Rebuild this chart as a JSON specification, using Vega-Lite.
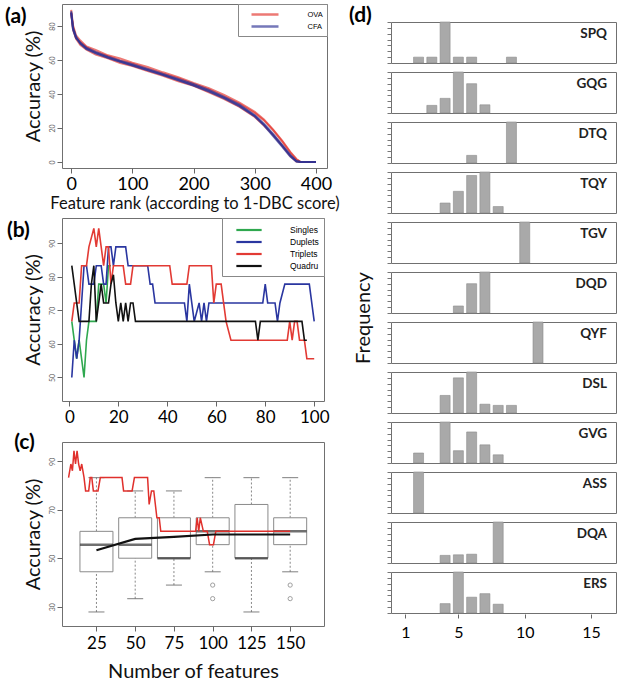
{
  "$schema": "https://vega.github.io/schema/vega-lite/v6.json",
  "background": "white",
  "padding": {"left": 4, "top": 3, "right": 0, "bottom": 0},
  "config": {
    "font": "Lato",
    "view": {"stroke": "#707070", "strokeWidth": 1},
    "axis": {"domain": false, "grid": false, "tickColor": "#666", "tickSize": 5, "labelColor": "#000", "titleFontWeight": "normal", "titleColor": "#111", "titleFont": "Lato", "labelFont": "Lato"},
    "axisY": {"labelAngle": -90, "labelAlign": "center", "labelBaseline": "bottom", "labelFontSize": 7, "labelColor": "#666", "titleFontSize": 20, "labelPadding": 2, "titlePadding": 5},
    "axisX": {"labelFontSize": 17, "labelPadding": 2, "titleFontSize": 19}
  },
  "datasets": {
    "boxes": [
      {"n": 25, "lo": 27.8, "q1": 44.4, "med": 55.6, "q3": 61.1, "hi": 83.3},
      {"n": 50, "lo": 33.3, "q1": 50, "med": 55.6, "q3": 66.7, "hi": 77.8},
      {"n": 75, "lo": 38.9, "q1": 50, "med": 50, "q3": 66.7, "hi": 77.8},
      {"n": 100, "lo": 44.4, "q1": 55.6, "med": 61.1, "q3": 66.7, "hi": 83.3},
      {"n": 125, "lo": 27.8, "q1": 50, "med": 50, "q3": 72.2, "hi": 83.3},
      {"n": 150, "lo": 44.4, "q1": 55.6, "med": 61.1, "q3": 66.7, "hi": 83.3}
    ]
  },
  "spacing": 9,
  "hconcat": [
    {
      "spacing": 5,
      "resolve": {"scale": {"color": "independent"}, "legend": {"color": "independent"}},
      "vconcat": [
        {
          "width": 265,
          "height": 164,
          "layer": [
            {
              "data": {"values": [
                {"m":"OVA","r":"o1","x":0,"y":89.5},{"m":"OVA","r":"o1","x":3,"y":80.5},{"m":"OVA","r":"o1","x":8,"y":74.5},{"m":"OVA","r":"o1","x":15,"y":71.5},{"m":"OVA","r":"o1","x":25,"y":68},{"m":"OVA","r":"o1","x":40,"y":66},{"m":"OVA","r":"o1","x":60,"y":62.8},{"m":"OVA","r":"o1","x":80,"y":61},{"m":"OVA","r":"o1","x":100,"y":58.5},{"m":"OVA","r":"o1","x":125,"y":56},{"m":"OVA","r":"o1","x":150,"y":52.8},{"m":"OVA","r":"o1","x":175,"y":50},{"m":"OVA","r":"o1","x":200,"y":46.5},{"m":"OVA","r":"o1","x":225,"y":43.5},{"m":"OVA","r":"o1","x":250,"y":39.5},{"m":"OVA","r":"o1","x":275,"y":35},{"m":"OVA","r":"o1","x":300,"y":29.5},{"m":"OVA","r":"o1","x":315,"y":25},{"m":"OVA","r":"o1","x":330,"y":19},{"m":"OVA","r":"o1","x":345,"y":12.5},{"m":"OVA","r":"o1","x":358,"y":6},{"m":"OVA","r":"o1","x":368,"y":1.8},{"m":"OVA","r":"o1","x":375,"y":0},{"m":"OVA","r":"o1","x":400,"y":0},
                {"m":"OVA","r":"o2","x":0,"y":88},{"m":"OVA","r":"o2","x":3,"y":78},{"m":"OVA","r":"o2","x":8,"y":72.5},{"m":"OVA","r":"o2","x":15,"y":68.8},{"m":"OVA","r":"o2","x":25,"y":66.2},{"m":"OVA","r":"o2","x":40,"y":63.3},{"m":"OVA","r":"o2","x":60,"y":61},{"m":"OVA","r":"o2","x":80,"y":58.3},{"m":"OVA","r":"o2","x":100,"y":56.5},{"m":"OVA","r":"o2","x":125,"y":53.5},{"m":"OVA","r":"o2","x":150,"y":50.8},{"m":"OVA","r":"o2","x":175,"y":47.5},{"m":"OVA","r":"o2","x":200,"y":44.8},{"m":"OVA","r":"o2","x":225,"y":41},{"m":"OVA","r":"o2","x":250,"y":37},{"m":"OVA","r":"o2","x":275,"y":32.5},{"m":"OVA","r":"o2","x":300,"y":26.5},{"m":"OVA","r":"o2","x":315,"y":21.5},{"m":"OVA","r":"o2","x":330,"y":16},{"m":"OVA","r":"o2","x":345,"y":9.5},{"m":"OVA","r":"o2","x":358,"y":3.5},{"m":"OVA","r":"o2","x":368,"y":0.3},{"m":"OVA","r":"o2","x":375,"y":0},{"m":"OVA","r":"o2","x":400,"y":0},
                {"m":"OVA","r":"o3","x":0,"y":87.5},{"m":"OVA","r":"o3","x":3,"y":79.5},{"m":"OVA","r":"o3","x":8,"y":73},{"m":"OVA","r":"o3","x":15,"y":70.5},{"m":"OVA","r":"o3","x":25,"y":67.5},{"m":"OVA","r":"o3","x":40,"y":64.8},{"m":"OVA","r":"o3","x":60,"y":62.3},{"m":"OVA","r":"o3","x":80,"y":59.8},{"m":"OVA","r":"o3","x":100,"y":57.8},{"m":"OVA","r":"o3","x":125,"y":55},{"m":"OVA","r":"o3","x":150,"y":52},{"m":"OVA","r":"o3","x":175,"y":49.3},{"m":"OVA","r":"o3","x":200,"y":45.8},{"m":"OVA","r":"o3","x":225,"y":42.8},{"m":"OVA","r":"o3","x":250,"y":38.5},{"m":"OVA","r":"o3","x":275,"y":34.2},{"m":"OVA","r":"o3","x":300,"y":28.8},{"m":"OVA","r":"o3","x":315,"y":24.5},{"m":"OVA","r":"o3","x":330,"y":18.8},{"m":"OVA","r":"o3","x":345,"y":12},{"m":"OVA","r":"o3","x":358,"y":5.5},{"m":"OVA","r":"o3","x":368,"y":1.5},{"m":"OVA","r":"o3","x":375,"y":0},{"m":"OVA","r":"o3","x":400,"y":0},
                {"m":"CFA","r":"c1","x":0,"y":88.8},{"m":"CFA","r":"c1","x":3,"y":79.2},{"m":"CFA","r":"c1","x":8,"y":73.8},{"m":"CFA","r":"c1","x":15,"y":69.5},{"m":"CFA","r":"c1","x":25,"y":66.8},{"m":"CFA","r":"c1","x":40,"y":64},{"m":"CFA","r":"c1","x":60,"y":61.5},{"m":"CFA","r":"c1","x":80,"y":59.2},{"m":"CFA","r":"c1","x":100,"y":57},{"m":"CFA","r":"c1","x":125,"y":54.2},{"m":"CFA","r":"c1","x":150,"y":51.3},{"m":"CFA","r":"c1","x":175,"y":48.3},{"m":"CFA","r":"c1","x":200,"y":45.2},{"m":"CFA","r":"c1","x":225,"y":41.8},{"m":"CFA","r":"c1","x":250,"y":37.8},{"m":"CFA","r":"c1","x":275,"y":33.2},{"m":"CFA","r":"c1","x":300,"y":27.2},{"m":"CFA","r":"c1","x":315,"y":22},{"m":"CFA","r":"c1","x":330,"y":15.8},{"m":"CFA","r":"c1","x":345,"y":9.5},{"m":"CFA","r":"c1","x":358,"y":3.8},{"m":"CFA","r":"c1","x":368,"y":0.5},{"m":"CFA","r":"c1","x":375,"y":0},{"m":"CFA","r":"c1","x":400,"y":0},
                {"m":"CFA","r":"c2","x":0,"y":88},{"m":"CFA","r":"c2","x":3,"y":78.5},{"m":"CFA","r":"c2","x":8,"y":73.2},{"m":"CFA","r":"c2","x":15,"y":70.3},{"m":"CFA","r":"c2","x":25,"y":67.3},{"m":"CFA","r":"c2","x":40,"y":64.8},{"m":"CFA","r":"c2","x":60,"y":62},{"m":"CFA","r":"c2","x":80,"y":59.6},{"m":"CFA","r":"c2","x":100,"y":57.5},{"m":"CFA","r":"c2","x":125,"y":54.8},{"m":"CFA","r":"c2","x":150,"y":51.8},{"m":"CFA","r":"c2","x":175,"y":48.9},{"m":"CFA","r":"c2","x":200,"y":45.9},{"m":"CFA","r":"c2","x":225,"y":42.5},{"m":"CFA","r":"c2","x":250,"y":38.4},{"m":"CFA","r":"c2","x":275,"y":33.8},{"m":"CFA","r":"c2","x":300,"y":27.5},{"m":"CFA","r":"c2","x":315,"y":22.6},{"m":"CFA","r":"c2","x":330,"y":16.5},{"m":"CFA","r":"c2","x":345,"y":10},{"m":"CFA","r":"c2","x":358,"y":4.2},{"m":"CFA","r":"c2","x":368,"y":0.6},{"m":"CFA","r":"c2","x":375,"y":0},{"m":"CFA","r":"c2","x":400,"y":0},
                {"m":"CFA","r":"c3","x":0,"y":87.8},{"m":"CFA","r":"c3","x":3,"y":77.8},{"m":"CFA","r":"c3","x":8,"y":72.8},{"m":"CFA","r":"c3","x":15,"y":69.8},{"m":"CFA","r":"c3","x":25,"y":66.5},{"m":"CFA","r":"c3","x":40,"y":64.2},{"m":"CFA","r":"c3","x":60,"y":61.3},{"m":"CFA","r":"c3","x":80,"y":59},{"m":"CFA","r":"c3","x":100,"y":56.8},{"m":"CFA","r":"c3","x":125,"y":54},{"m":"CFA","r":"c3","x":150,"y":51.2},{"m":"CFA","r":"c3","x":175,"y":48.1},{"m":"CFA","r":"c3","x":200,"y":45},{"m":"CFA","r":"c3","x":225,"y":41.5},{"m":"CFA","r":"c3","x":250,"y":37.5},{"m":"CFA","r":"c3","x":275,"y":32.8},{"m":"CFA","r":"c3","x":300,"y":26.8},{"m":"CFA","r":"c3","x":315,"y":21.6},{"m":"CFA","r":"c3","x":330,"y":15.2},{"m":"CFA","r":"c3","x":345,"y":9},{"m":"CFA","r":"c3","x":358,"y":3.2},{"m":"CFA","r":"c3","x":368,"y":0.3},{"m":"CFA","r":"c3","x":375,"y":0},{"m":"CFA","r":"c3","x":400,"y":0}
              ]},
              "mark": {"type": "line", "strokeWidth": 2, "opacity": 0.65},
              "encoding": {
                "x": {"field": "x", "type": "quantitative", "scale": {"domain": [-15, 418], "nice": false, "zero": false}, "axis": {"values": [0, 100, 200, 300, 400], "title": "Feature rank (according to 1-DBC score)", "titleFontSize": 16.5, "titlePadding": 2, "labelFontSize": 18}},
                "y": {"field": "y", "type": "quantitative", "scale": {"domain": [-3.5, 93], "nice": false}, "axis": {"values": [0, 20, 40, 60, 80], "title": "Accuracy (%)"}},
                "color": {"field": "m", "type": "nominal", "scale": {"domain": ["OVA", "CFA"], "range": ["#e3322b", "#2c3194"]},
                  "legend": {"title": null, "orient": "top-right", "offset": 0, "strokeColor": "#888", "fillColor": "white", "padding": 4, "rowPadding": 0, "symbolType": "M-2.7,0H2.7", "symbolSize": 100, "symbolStrokeWidth": 2.5, "symbolOffset": 16.5, "labelOffset": 36, "labelFontSize": 7.5, "labelFont": "Liberation Sans"}},
                "detail": {"field": "r", "type": "nominal"}
              }
            },
            {
              "data": {"values": [{"lab": "(a)"}]},
              "mark": {"type": "text", "align": "left", "baseline": "top", "fontSize": 21, "fontWeight": "bold", "font": "Lato", "color": "#000"},
              "encoding": {
                "x": {"datum": -108, "type": "quantitative"},
                "y": {"datum": 91.8, "type": "quantitative"},
                "text": {"field": "lab"}
              }
            }
          ]
        },
        {
          "width": 262,
          "height": 183,
          "layer": [
            {
              "data": {"values": [
                {"s":"Singles","x":1,"y":66.7},{"s":"Singles","x":2,"y":61.1},{"s":"Singles","x":3,"y":55.6},{"s":"Singles","x":4,"y":61.1},{"s":"Singles","x":5,"y":55.6},{"s":"Singles","x":6,"y":50},{"s":"Singles","x":7,"y":61.1},{"s":"Singles","x":8,"y":66.7},{"s":"Singles","x":11,"y":66.7},{"s":"Singles","x":12,"y":77.8},{"s":"Singles","x":14,"y":77.8},{"s":"Singles","x":15,"y":72.2},{"s":"Singles","x":16,"y":83.3},{"s":"Singles","x":17,"y":83.3},
                {"s":"Duplets","x":1,"y":50},{"s":"Duplets","x":2,"y":61.1},{"s":"Duplets","x":3,"y":55.6},{"s":"Duplets","x":4,"y":61.1},{"s":"Duplets","x":5,"y":72.2},{"s":"Duplets","x":6,"y":83.3},{"s":"Duplets","x":7,"y":83.3},{"s":"Duplets","x":8,"y":77.8},{"s":"Duplets","x":10,"y":77.8},{"s":"Duplets","x":11,"y":83.3},{"s":"Duplets","x":13,"y":83.3},{"s":"Duplets","x":14,"y":77.8},{"s":"Duplets","x":15,"y":77.8},{"s":"Duplets","x":16,"y":88.9},{"s":"Duplets","x":17,"y":88.9},{"s":"Duplets","x":18,"y":83.3},{"s":"Duplets","x":19,"y":88.9},{"s":"Duplets","x":23,"y":88.9},{"s":"Duplets","x":24,"y":83.3},{"s":"Duplets","x":32,"y":83.3},{"s":"Duplets","x":33,"y":77.8},{"s":"Duplets","x":34,"y":77.8},{"s":"Duplets","x":35,"y":72.2},{"s":"Duplets","x":47,"y":72.2},{"s":"Duplets","x":48,"y":66.7},{"s":"Duplets","x":49,"y":77.8},{"s":"Duplets","x":50,"y":72.2},{"s":"Duplets","x":51,"y":66.7},{"s":"Duplets","x":53,"y":72.2},{"s":"Duplets","x":54,"y":66.7},{"s":"Duplets","x":55,"y":72.2},{"s":"Duplets","x":56,"y":66.7},{"s":"Duplets","x":57,"y":72.2},{"s":"Duplets","x":79,"y":72.2},{"s":"Duplets","x":80,"y":77.8},{"s":"Duplets","x":81,"y":72.2},{"s":"Duplets","x":84,"y":72.2},{"s":"Duplets","x":85,"y":66.7},{"s":"Duplets","x":86,"y":72.2},{"s":"Duplets","x":88,"y":77.8},{"s":"Duplets","x":98,"y":77.8},{"s":"Duplets","x":100,"y":66.7},
                {"s":"Triplets","x":1,"y":66.7},{"s":"Triplets","x":2,"y":72.2},{"s":"Triplets","x":4,"y":72.2},{"s":"Triplets","x":5,"y":83.3},{"s":"Triplets","x":7,"y":83.3},{"s":"Triplets","x":8,"y":88.9},{"s":"Triplets","x":10,"y":94.4},{"s":"Triplets","x":11,"y":88.9},{"s":"Triplets","x":12,"y":94.4},{"s":"Triplets","x":13,"y":88.9},{"s":"Triplets","x":14,"y":83.3},{"s":"Triplets","x":15,"y":88.9},{"s":"Triplets","x":16,"y":88.9},{"s":"Triplets","x":17,"y":77.8},{"s":"Triplets","x":18,"y":83.3},{"s":"Triplets","x":22,"y":83.3},{"s":"Triplets","x":23,"y":77.8},{"s":"Triplets","x":25,"y":77.8},{"s":"Triplets","x":26,"y":83.3},{"s":"Triplets","x":41,"y":83.3},{"s":"Triplets","x":42,"y":77.8},{"s":"Triplets","x":48,"y":77.8},{"s":"Triplets","x":49,"y":83.3},{"s":"Triplets","x":58,"y":83.3},{"s":"Triplets","x":59,"y":72.2},{"s":"Triplets","x":60,"y":77.8},{"s":"Triplets","x":62,"y":77.8},{"s":"Triplets","x":63,"y":72.2},{"s":"Triplets","x":64,"y":66.7},{"s":"Triplets","x":66,"y":61.1},{"s":"Triplets","x":89,"y":61.1},{"s":"Triplets","x":90,"y":66.7},{"s":"Triplets","x":91,"y":61.1},{"s":"Triplets","x":92,"y":66.7},{"s":"Triplets","x":93,"y":66.7},{"s":"Triplets","x":94,"y":61.1},{"s":"Triplets","x":96,"y":61.1},{"s":"Triplets","x":97,"y":55.6},{"s":"Triplets","x":100,"y":55.6},
                {"s":"Quadru","x":1,"y":83.3},{"s":"Quadru","x":2,"y":77.8},{"s":"Quadru","x":3,"y":72.2},{"s":"Quadru","x":4,"y":66.7},{"s":"Quadru","x":8,"y":66.7},{"s":"Quadru","x":9,"y":77.8},{"s":"Quadru","x":10,"y":83.3},{"s":"Quadru","x":11,"y":66.7},{"s":"Quadru","x":12,"y":72.2},{"s":"Quadru","x":13,"y":77.8},{"s":"Quadru","x":14,"y":72.2},{"s":"Quadru","x":16,"y":72.2},{"s":"Quadru","x":17,"y":77.8},{"s":"Quadru","x":18,"y":80.6},{"s":"Quadru","x":19,"y":72.2},{"s":"Quadru","x":20,"y":66.7},{"s":"Quadru","x":21,"y":72.2},{"s":"Quadru","x":22,"y":66.7},{"s":"Quadru","x":23,"y":72.2},{"s":"Quadru","x":24,"y":66.7},{"s":"Quadru","x":25,"y":72.2},{"s":"Quadru","x":26,"y":72.2},{"s":"Quadru","x":27,"y":66.7},{"s":"Quadru","x":76,"y":66.7},{"s":"Quadru","x":77,"y":61.1},{"s":"Quadru","x":78,"y":66.7},{"s":"Quadru","x":95,"y":66.7},{"s":"Quadru","x":96,"y":61.1},{"s":"Quadru","x":97,"y":61.1}
              ]},
              "mark": {"type": "line", "strokeWidth": 1.6},
              "encoding": {
                "x": {"field": "x", "type": "quantitative", "scale": {"domain": [-3, 104], "nice": false, "zero": false}, "axis": {"values": [0, 20, 40, 60, 80, 100], "title": null, "labelPadding": 3}},
                "y": {"field": "y", "type": "quantitative", "scale": {"domain": [43, 97.5], "nice": false, "zero": false}, "axis": {"values": [50, 60, 70, 80, 90], "title": "Accuracy (%)"}},
                "color": {"field": "s", "type": "nominal", "sort": ["Singles", "Duplets", "Triplets", "Quadru"], "scale": {"domain": ["Singles", "Duplets", "Triplets", "Quadru"], "range": ["#2fa84f", "#2a36a0", "#e23a34", "#111111"]},
                  "legend": {"title": null, "orient": "top-right", "offset": 0, "strokeColor": "#888", "fillColor": "white", "padding": 5, "rowPadding": 0, "symbolType": "M-2.3,0H2.3", "symbolSize": 121, "symbolStrokeWidth": 2.2, "symbolOffset": 15, "labelOffset": 34, "labelFontSize": 8.5, "labelFont": "Liberation Sans"}}
              }
            },
            {
              "data": {"values": [{"lab": "(b)"}]},
              "mark": {"type": "text", "align": "left", "baseline": "top", "fontSize": 21, "fontWeight": "bold", "font": "Lato", "color": "#000"},
              "encoding": {
                "x": {"datum": -25.5, "type": "quantitative"},
                "y": {"datum": 96.9, "type": "quantitative"},
                "text": {"field": "lab"}
              }
            }
          ]
        },
        {
          "width": 262,
          "height": 184,
          "encoding": {
            "x": {"field": "n", "type": "quantitative", "scale": {"domain": [6, 168.6], "nice": false, "zero": false}, "axis": {"values": [25, 50, 75, 100, 125, 150], "title": "Number of features", "titleFontSize": 20, "titlePadding": 10, "labelPadding": 4}}
          },
          "layer": [
            {
              "data": {"name": "boxes"},
              "mark": {"type": "rule", "strokeDash": [2, 2], "color": "#888"},
              "encoding": {
                "y": {"field": "q3", "type": "quantitative", "title": "Accuracy (%)", "scale": {"domain": [22, 98], "nice": false, "zero": false}, "axis": {"values": [30, 40, 50, 60, 70, 80, 90], "title": "Accuracy (%)"}},
                "y2": {"field": "hi"}
              }
            },
            {
              "data": {"name": "boxes"},
              "mark": {"type": "rule", "strokeDash": [2, 2], "color": "#888"},
              "encoding": {"y": {"field": "lo", "type": "quantitative", "title": "Accuracy (%)"}, "y2": {"field": "q1"}}
            },
            {
              "data": {"name": "boxes"},
              "mark": {"type": "tick", "orient": "horizontal", "size": 16, "thickness": 1.2, "color": "#666"},
              "encoding": {"y": {"field": "hi", "type": "quantitative", "title": "Accuracy (%)"}}
            },
            {
              "data": {"name": "boxes"},
              "mark": {"type": "tick", "orient": "horizontal", "size": 16, "thickness": 1.2, "color": "#666"},
              "encoding": {"y": {"field": "lo", "type": "quantitative", "title": "Accuracy (%)"}}
            },
            {
              "data": {"name": "boxes"},
              "mark": {"type": "bar", "size": 33, "fill": "white", "stroke": "#8a8a8a", "strokeWidth": 1},
              "encoding": {"y": {"field": "q1", "type": "quantitative", "title": "Accuracy (%)"}, "y2": {"field": "q3"}}
            },
            {
              "data": {"name": "boxes"},
              "mark": {"type": "tick", "orient": "horizontal", "size": 33, "thickness": 2.5, "color": "#333"},
              "encoding": {"y": {"field": "med", "type": "quantitative", "title": "Accuracy (%)"}}
            },
            {
              "data": {"values": [{"n": 100, "y": 38.9}, {"n": 100, "y": 33.3}, {"n": 150, "y": 38.9}, {"n": 150, "y": 33.3}]},
              "mark": {"type": "point", "shape": "circle", "filled": false, "size": 18, "color": "#777", "strokeWidth": 1},
              "encoding": {"y": {"field": "y", "type": "quantitative", "title": "Accuracy (%)"}}
            },
            {
              "data": {"values": [
                {"n":7,"y":83.3},{"n":8.5,"y":88.9},{"n":9.5,"y":86.1},{"n":10.5,"y":94.4},{"n":11.5,"y":88.9},{"n":12.5,"y":94.4},{"n":13.5,"y":88.9},{"n":14.5,"y":86.1},{"n":15.5,"y":88.9},{"n":17,"y":83.3},{"n":18,"y":77.8},{"n":20,"y":77.8},{"n":21,"y":83.3},{"n":22,"y":83.3},{"n":23,"y":77.8},{"n":26,"y":77.8},{"n":27.5,"y":83.3},{"n":41.5,"y":83.3},{"n":42.5,"y":77.8},{"n":48,"y":77.8},{"n":49.5,"y":83.3},{"n":58,"y":83.3},{"n":59,"y":72.2},{"n":60.5,"y":77.8},{"n":62,"y":77.8},{"n":64,"y":66.7},{"n":65.5,"y":66.7},{"n":66.5,"y":61.1},{"n":89,"y":61.1},{"n":90,"y":66.7},{"n":91,"y":61.1},{"n":92,"y":66.7},{"n":94,"y":61.1},{"n":96.5,"y":61.1},{"n":98,"y":55.6},{"n":100.5,"y":55.6},{"n":102,"y":61.1},{"n":150,"y":61.1}
              ]},
              "mark": {"type": "line", "color": "#e0302c", "strokeWidth": 1.5},
              "encoding": {"y": {"field": "y", "type": "quantitative", "title": "Accuracy (%)"}}
            },
            {
              "data": {"values": [
                {"n":25,"y":53.3},{"n":50,"y":58},{"n":75,"y":58.8},{"n":100,"y":59.8},{"n":125,"y":59.8},{"n":150,"y":59.8}
              ]},
              "mark": {"type": "line", "color": "#111", "strokeWidth": 2.2},
              "encoding": {"y": {"field": "y", "type": "quantitative", "title": "Accuracy (%)"}}
            },
            {
              "data": {"values": [{"lab": "(c)", "n": -28.1, "y": 102}]},
              "mark": {"type": "text", "align": "left", "baseline": "top", "fontSize": 21, "fontWeight": "bold", "font": "Lato", "color": "#000"},
              "encoding": {
                "y": {"field": "y", "type": "quantitative", "title": "Accuracy (%)"},
                "text": {"field": "lab"}
              }
            }
          ]
        }
      ]
    },
    {
      "spacing": 0,
      "vconcat": [
        {
          "width": 225,
          "height": 1,
          "view": {"stroke": null},
          "data": {"values": []},
          "mark": "point"
        },
        {
          "title": {"text": "(d)", "anchor": "start", "frame": "group", "fontSize": 21, "fontWeight": "bold", "font": "Lato", "color": "#000", "offset": -5, "dx": -42},
          "data": {"values": [
            {"p":"SPQ","v":2,"f":1},{"p":"SPQ","v":3,"f":1},{"p":"SPQ","v":4,"f":7},{"p":"SPQ","v":5,"f":1},{"p":"SPQ","v":6,"f":1},{"p":"SPQ","v":9,"f":1},
            {"p":"GQG","v":3,"f":1.3},{"p":"GQG","v":4,"f":2.5},{"p":"GQG","v":5,"f":7},{"p":"GQG","v":6,"f":5},{"p":"GQG","v":7,"f":1.4},
            {"p":"DTQ","v":6,"f":1.3},{"p":"DTQ","v":9,"f":7},
            {"p":"TQY","v":4,"f":1.7},{"p":"TQY","v":5,"f":3.7},{"p":"TQY","v":6,"f":6.4},{"p":"TQY","v":7,"f":7},{"p":"TQY","v":8,"f":1.1},
            {"p":"TGV","v":10,"f":7},
            {"p":"DQD","v":5,"f":1.2},{"p":"DQD","v":6,"f":5},{"p":"DQD","v":7,"f":7},
            {"p":"QYF","v":11,"f":7},
            {"p":"DSL","v":4,"f":3},{"p":"DSL","v":5,"f":6},{"p":"DSL","v":6,"f":7},{"p":"DSL","v":7,"f":1.5},{"p":"DSL","v":8,"f":1.3},{"p":"DSL","v":9,"f":1.3},
            {"p":"GVG","v":2,"f":1.7},{"p":"GVG","v":4,"f":7},{"p":"GVG","v":5,"f":2.1},{"p":"GVG","v":6,"f":5.3},{"p":"GVG","v":7,"f":3.1},{"p":"GVG","v":8,"f":1.4},
            {"p":"ASS","v":2,"f":7},
            {"p":"DQA","v":4,"f":1.3},{"p":"DQA","v":5,"f":1.4},{"p":"DQA","v":6,"f":1.5},{"p":"DQA","v":8,"f":7},
            {"p":"ERS","v":4,"f":1.6},{"p":"ERS","v":5,"f":7},{"p":"ERS","v":6,"f":2.7},{"p":"ERS","v":7,"f":3.3},{"p":"ERS","v":8,"f":1.5}
          ]},
          "facet": {
            "row": {"field": "p", "type": "nominal", "title": "Frequency",
              "sort": ["SPQ", "GQG", "DTQ", "TQY", "TGV", "DQD", "QYF", "DSL", "GVG", "ASS", "DQA", "ERS"],
              "header": {"labels": false, "titleFontSize": 20, "titleFont": "Lato", "titleFontWeight": "normal", "titleColor": "#111", "titlePadding": 2}}
          },
          "spacing": 7,
          "resolve": {"scale": {"y": "independent"}},
          "spec": {
            "width": 225,
            "height": 41,
            "layer": [
              {
                "mark": {"type": "bar", "size": 10, "color": "#a9a9a9", "stroke": "#8c8c8c", "strokeWidth": 0.6},
                "encoding": {
                  "x": {"field": "v", "type": "quantitative", "title": null, "scale": {"domain": [0.3, 16.5], "nice": false, "zero": false}, "axis": {"values": [1, 5, 10, 15], "title": null, "labelFontSize": 16, "labelPadding": 6, "tickSize": 4}},
                  "y": {"field": "f", "type": "quantitative", "title": null, "scale": {"nice": false, "zero": true}, "axis": {"labels": false, "title": null, "tickCount": 7, "tickSize": 4, "tickColor": "#777"}}
                }
              },
              {
                "mark": {"type": "text", "align": "right", "baseline": "top", "dy": 5, "dx": -4, "fontSize": 13.5, "fontWeight": "bold", "font": "Lato", "color": "#222"},
                "encoding": {
                  "x": {"datum": 16.5, "type": "quantitative", "title": null},
                  "y": {"aggregate": "max", "field": "f", "type": "quantitative", "title": null},
                  "text": {"field": "p", "type": "nominal"}
                }
              }
            ]
          }
        }
      ]
    }
  ]
}
